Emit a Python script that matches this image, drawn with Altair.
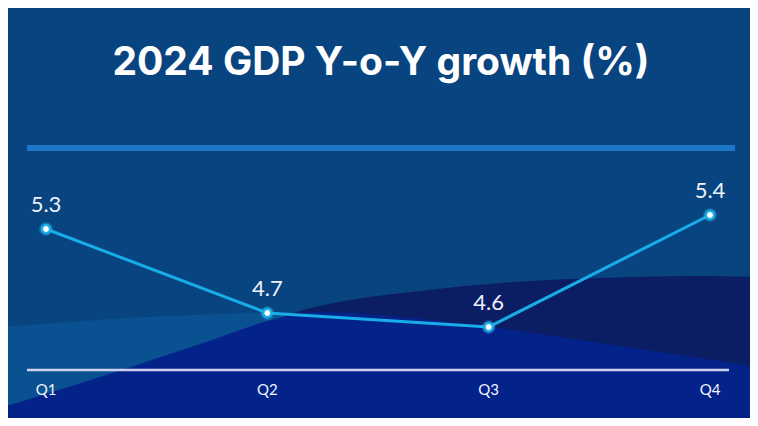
import altair as alt
import pandas as pd

# ---- data ----
quarters = ["Q1", "Q2", "Q3", "Q4"]
growth = [5.3, 4.7, 4.6, 5.4]
title_text = "2024 GDP Y-o-Y growth (%)"

# decorative background waves (page pixel positions)
wave_light_x = [0, 57, 127, 197, 257, 300]
wave_light_y = [327, 323, 318, 315, 313, 313]
wave_navy_x = [0, 100, 200, 270, 300, 350, 420, 500, 600, 700, 758]
wave_navy_y = [445, 400, 350, 322, 311, 300, 291, 283, 278, 276, 277]
wave_royal_x = [0, 100, 200, 280, 320, 400, 489, 600, 700, 758]
wave_royal_y = [408, 377, 344, 318, 312, 317, 327, 343, 358, 367]
PAGE_BOTTOM = 440

W, H = 742, 410
# chart pixel -> data mapping (Q1 at x=38, step 221.33; 5.3 at y=221, 140 px per unit)
STEP = 221.33
X0 = 38
Y53 = 221
PPU = 140.0
XDOM = [(0 - X0) / STEP, (W - X0) / STEP]
YDOM = [5.3 - (H - Y53) / PPU, 5.3 + Y53 / PPU]


def cx(px):  # page x -> index units
    return (px - 8 - X0) / STEP


def cy(py):  # page y -> value units
    return 5.3 - (py - 8 - Y53) / PPU


df = pd.DataFrame({"i": list(range(len(quarters))), "q": quarters, "v": growth})

X = lambda f: alt.X(f, type="quantitative", scale=alt.Scale(domain=XDOM, nice=False, zero=False), axis=None)
Y = lambda f: alt.Y(f, type="quantitative", scale=alt.Scale(domain=YDOM, nice=False, zero=False), axis=None)


def wave(xs, ys, color):
    d = pd.DataFrame(
        {
            "i": [cx(p) for p in xs],
            "v": [cy(p) for p in ys],
            "vb": [cy(PAGE_BOTTOM)] * len(xs),
        }
    )
    return alt.Chart(d).mark_area(color=color, interpolate="monotone").encode(
        x=X("i"), y=Y("v"), y2=alt.Y2("vb")
    )


rules_df = pd.DataFrame(
    {
        "i0": [cx(27), cx(27)],
        "i1": [cx(735), cx(729)],
        "v": [cy(148), cy(370)],
        "kind": ["top", "base"],
    }
)
top_rule = (
    alt.Chart(rules_df)
    .transform_filter("datum.kind == 'top'")
    .mark_rule(color="#1b77c6", strokeWidth=6)
    .encode(x=X("i0"), x2=alt.X2("i1"), y=Y("v"))
)
base_rule = (
    alt.Chart(rules_df)
    .transform_filter("datum.kind == 'base'")
    .mark_rule(color="#cdd1ee", strokeWidth=2.5)
    .encode(x=X("i0"), x2=alt.X2("i1"), y=Y("v"))
)

base = alt.Chart(df).encode(x=X("i"), y=Y("v"))
line = base.mark_line(color="#18ade8", strokeWidth=3)
glow = base.mark_circle(color="#3fc3f5", size=200, opacity=0.25)
pts = base.mark_circle(
    fill="#ffffff", stroke="#1aaee8", strokeWidth=2.5, size=70, opacity=1, fillOpacity=1
)
labels = base.mark_text(
    dy=-17, baseline="alphabetic", font="Lato", fontSize=22, color="#f0f2fb"
).encode(text=alt.Text("v:Q", format=".1f"))

qlab_df = pd.DataFrame({"i": list(range(len(quarters))), "q": quarters, "v": [cy(370)] * 4})
qlabels = alt.Chart(qlab_df).mark_text(
    dy=20, baseline="middle", font="Lato", fontSize=15, color="#f2f4ff"
).encode(x=X("i"), y=Y("v"), text="q:N")

title_df = pd.DataFrame({"i": [cx(381)], "v": [cy(75)], "t": [title_text]})
title = alt.Chart(title_df).mark_text(
    baseline="alphabetic", align="center", font="Inter", fontSize=39,
    fontWeight="bold", color="#ffffff"
).encode(x=X("i"), y=Y("v"), text="t:N")

chart = (
    alt.layer(
        wave(wave_light_x, wave_light_y, "#0a5191"),
        wave(wave_navy_x, wave_navy_y, "#0b1e64"),
        wave(wave_royal_x, wave_royal_y, "#04238a"),
        top_rule,
        base_rule,
        line,
        glow,
        pts,
        labels,
        qlabels,
        title,
    )
    .properties(
        width=W,
        height=H,
        autosize=alt.AutoSizeParams(type="none"),
        padding=0,
        background="#08447f",
    )
    .configure_view(strokeWidth=0)
)

chart.save("out.html", embed_options={"renderer": "svg", "actions": False})
